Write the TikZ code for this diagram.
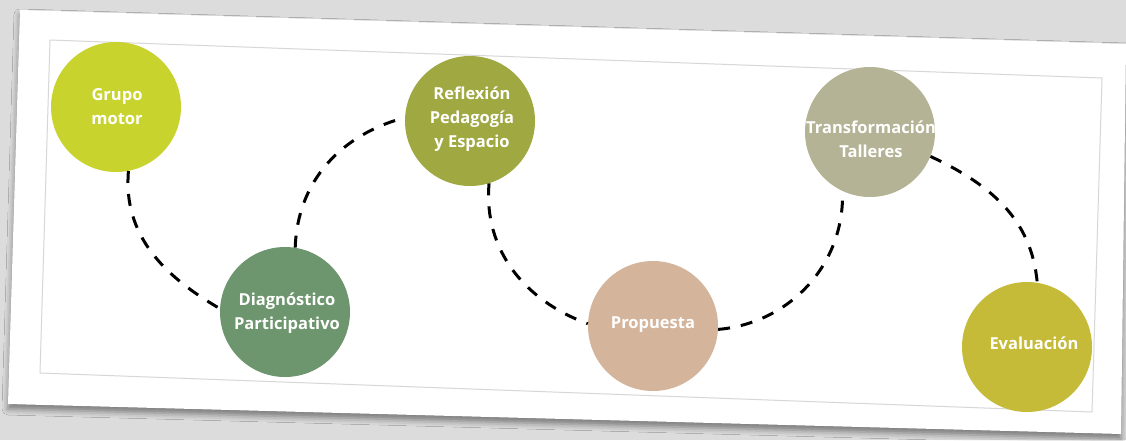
\documentclass[tikz,border=0pt]{standalone}
\usepackage{fontspec}
\setmainfont{Open Sans}
\usetikzlibrary{shadows.blur}
\definecolor{bgcol}{RGB}{220,220,220}
\definecolor{framecol}{RGB}{215,215,215}
\definecolor{cgrupo}{RGB}{201,211,46}
\definecolor{cdiag}{RGB}{110,150,110}
\definecolor{crefl}{RGB}{160,168,66}
\definecolor{cprop}{RGB}{212,181,156}
\definecolor{ctrans}{RGB}{181,179,149}
\definecolor{ceval}{RGB}{197,187,56}
\tikzset{
  stage/.style={circle, minimum size=130pt, inner sep=0pt},
  stagetext/.style={text=white, font=\bfseries\fontsize{16.5}{24}\selectfont, align=center, inner sep=0pt},
  link/.style={line width=3pt, dash pattern=on 12pt off 11pt, black},
}
\begin{document}
\begin{tikzpicture}[x=1pt,y=1pt]
\fill[bgcol] (0,0) rectangle (1126,440);
\useasboundingbox (0,0) rectangle (1126,440);
% card
\fill[white, blur shadow={shadow xshift=0pt, shadow yshift=-5pt, shadow blur radius=6pt, shadow opacity=45}]
  (20,430) -- (1126,396) -- (1121,6) -- (8,36) -- cycle;
% inner frame
\draw[framecol, line width=1pt] (50,400) -- (1102,362) -- (1092,28) -- (40,67) -- cycle;
% circles
\node[stage, fill=cgrupo] (g) at (116,333) {};
\node[stage, fill=cdiag]  (d) at (285,128) {};
\node[stage, fill=crefl]  (r) at (470,319) {};
\node[stage, fill=cprop]  (p) at (653,114) {};
\node[stage, fill=ctrans] (t) at (870,308) {};
\node[stage, fill=ceval]  (e) at (1027,93) {};
% texts
\node[stagetext] (gt) at (117,333) {Grupo\\motor};
\node[stagetext] (dt) at (287,127) {Diagnóstico\\Participativo};
\node[stagetext] (rt) at (472,321) {Reflexión\\Pedagogía\\y Espacio};
\node[stagetext] (pt) at (653,115) {Propuesta};
\node[stagetext] (tt) at (871,301) {Transformación\\Talleres};
\node[stagetext] (et) at (1034,97) {Evaluación};
% connectors
\draw[link] (g.-79) to[out=-95, in=150] (d.177);
\draw[link] (d.81) to[out=88, in=195] (r.177);
\draw[link] (r.-73) to[out=-95, in=160] (p.178);
\draw[link] (p.-3) to[out=5, in=-88] (t.-115);
\draw[link] (t.-22) to[out=-25, in=95] (e.81);
\end{tikzpicture}
\end{document}
